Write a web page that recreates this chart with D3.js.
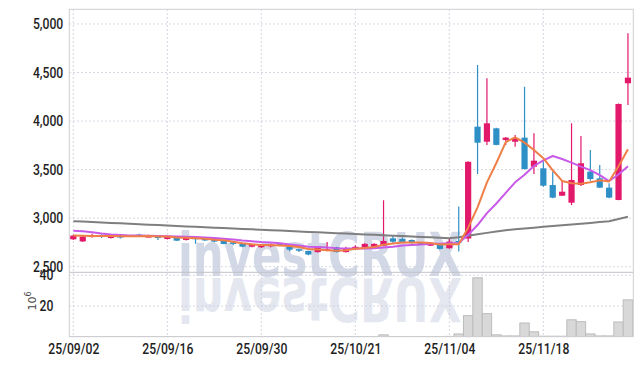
<!DOCTYPE html>
<html><head><meta charset="utf-8">
<script src="https://cdn.jsdelivr.net/npm/d3@7"></script>
<style>
html,body{margin:0;padding:0;background:#fff;}
svg{display:block;}
.lab{font-family:"Roboto","DejaVu Sans Condensed",sans-serif;font-weight:500;font-size:14.5px;fill:#1e1e1e;}
</style></head>
<body><svg id="c" width="643" height="366"></svg>
<script>
const tickIdx = [0,10,20,30,40,50];
const tickLabels = ["25/09/02","25/09/16","25/09/30","25/10/21","25/11/04","25/11/18"];
const priceTicks = [2500,3000,3500,4000,4500,5000];
const volTicks = [20,40];

const opens  = [2782,2760,2805,2827,2795,2815,2822,2830,2810,2815,2785,2803,2775,2798,2795,2785,2775,2750,2734,2706,2700,2710,2732,2710,2680,2662,2650,2665,2700,2650,2680,2700,2705,2715,2792,2785,2775,2748,2716,2730,2690,2765,2790,3942,3787,3925,3805,3787,3829,3530,3513,3341,3231,3159,3341,3479,3410,3314,3187,4389];
const highs  = [2828,2815,2838,2832,2830,2822,2826,2840,2830,2822,2812,2808,2810,2802,2800,2790,2780,2758,2740,2730,2728,2735,2740,2715,2685,2665,2710,2755,2705,2706,2720,2740,2740,3185,2815,2800,2780,2752,2745,2735,2790,3120,3585,4578,4440,3930,3835,3856,4354,3874,3582,3479,3386,3977,3846,3702,3547,3359,4180,4904];
const lows   = [2775,2755,2800,2795,2790,2790,2805,2812,2800,2775,2780,2765,2770,2735,2765,2752,2730,2720,2700,2700,2692,2700,2715,2660,2650,2618,2645,2660,2645,2645,2678,2698,2700,2710,2745,2745,2738,2725,2712,2678,2685,2655,2755,3455,3754,3750,3754,3736,3500,3455,3324,3205,3228,3135,3331,3386,3310,3205,3185,4165];
const closes = [2820,2810,2820,2810,2822,2808,2812,2818,2815,2795,2808,2768,2803,2790,2770,2758,2734,2735,2706,2722,2722,2725,2720,2675,2670,2625,2700,2680,2650,2690,2705,2735,2735,2765,2757,2750,2742,2731,2740,2683,2758,2750,3580,3777,3977,3754,3829,3822,3506,3592,3334,3211,3272,3393,3565,3403,3314,3211,4176,4447];
const volumes = [0.1,0.1,0.1,0.1,0.1,0.1,0.1,0.1,0.1,0.1,0.1,0.1,0.1,0.1,0.1,0.1,0.1,0.1,0.1,0.1,0.1,0.1,0.1,0.1,0.1,0.1,0.1,0.1,0.1,0.1,0.1,0.1,0.1,1.2,0.1,0.1,0.1,0.1,0.1,0.1,0.2,1.8,13.7,38.4,15.0,1.2,0.5,0.5,8.9,3.2,0.3,0.3,0.3,11.0,9.8,1.8,0.5,0.5,9.6,24.0];
const ma5  = [2822,2818,2816,2815,2816,2814,2814,2814,2815,2810,2810,2801,2798,2793,2788,2778,2771,2757,2741,2731,2724,2722,2719,2713,2702,2683,2678,2670,2665,2669,2685,2692,2703,2726,2739,2748,2750,2749,2744,2729,2731,2732,2902,3110,3368,3568,3783,3832,3778,3701,3617,3493,3383,3360,3355,3369,3389,3377,3534,3710];
const ma10 = [2870,2865,2855,2842,2832,2826,2822,2820,2818,2815,2814,2810,2808,2806,2801,2796,2788,2780,2769,2761,2753,2749,2740,2729,2719,2705,2702,2697,2691,2688,2686,2687,2689,2698,2706,2719,2723,2728,2737,2736,2742,2743,2828,2929,3051,3151,3260,3369,3446,3537,3594,3640,3609,3571,3530,3495,3443,3382,3449,3535];
const maLong = [2968,2964,2959,2955,2950,2946,2942,2937,2933,2929,2924,2920,2915,2911,2907,2902,2898,2893,2889,2885,2880,2876,2872,2867,2863,2858,2854,2850,2845,2841,2837,2832,2828,2823,2819,2815,2810,2806,2802,2797,2793,2803,2818,2834,2848,2863,2875,2885,2893,2902,2910,2918,2926,2935,2943,2951,2959,2968,2991,3015];

const L = 69.3, R = 633.3, T = 9.3, MID = 272.3, B = 336.7;
const svg = d3.select("#c");
const x = d3.scaleLinear().domain([-0.43, 59.57]).range([L, R]);
const y = d3.scaleLinear().domain([2442, 5151]).range([MID, T]);
const yv = d3.scaleLinear().domain([0, 40]).range([B, 275.3]);
const step = x(1) - x(0);
const RED = "#e2186b", BLUE = "#2e8fc7";

svg.append("defs").append("clipPath").attr("id","pclip").append("rect")
  .attr("x",L).attr("y",T).attr("width",R-L).attr("height",MID-T);
svg.select("defs").append("clipPath").attr("id","vclip").append("rect")
  .attr("x",L).attr("y",MID).attr("width",R-L).attr("height",B-MID);

// watermark
const wm = svg.append("g");
wm.append("text").attr("x",178).attr("y",276)
  .attr("textLength",284).attr("lengthAdjust","spacingAndGlyphs")
  .style("font-family","DejaVu Sans").style("font-weight","bold").style("font-size","60px")
  .style("fill","#d3d8e7").text("investCRUX");
wm.append("text").attr("x",178).attr("y",-278).attr("transform","scale(1,-1)")
  .attr("textLength",284).attr("lengthAdjust","spacingAndGlyphs")
  .style("font-family","DejaVu Sans").style("font-weight","bold").style("font-size","60px")
  .style("fill","#e5e7f0").text("investCRUX");

// grid
const grid = svg.append("g").attr("stroke","#c9ccda").attr("stroke-width",1).attr("stroke-dasharray","1.5,2.5");
grid.selectAll(".gx").data(tickIdx).join("line")
  .attr("x1",d=>x(d)).attr("x2",d=>x(d)).attr("y1",T).attr("y2",B);
grid.selectAll(".gy").data(priceTicks).join("line")
  .attr("x1",L).attr("x2",R).attr("y1",d=>y(d)).attr("y2",d=>y(d));
grid.selectAll(".gv").data(volTicks).join("line")
  .attr("x1",L).attr("x2",R).attr("y1",d=>yv(d)).attr("y2",d=>yv(d));

// volume bars
svg.append("g").attr("clip-path","url(#vclip)").selectAll("rect").data(volumes).join("rect")
  .attr("x",(d,i)=>x(i)-step/2).attr("width",step)
  .attr("y",d=>yv(d)).attr("height",d=>B-yv(d))
  .attr("fill","#d8d8d8").attr("stroke","#bcbcbc").attr("stroke-width",1);

// candles
const idx = d3.range(opens.length);
const cg = svg.append("g").attr("clip-path","url(#pclip)");
cg.selectAll(".wick").data(idx).join("line")
  .attr("x1",i=>x(i)).attr("x2",i=>x(i))
  .attr("y1",i=>y(highs[i])).attr("y2",i=>y(lows[i]))
  .attr("stroke",i=>closes[i]>=opens[i]?RED:BLUE).attr("stroke-width",1.2);
const bw = step*0.66;
cg.selectAll(".body").data(idx).join("rect")
  .attr("x",i=>x(i)-bw/2).attr("width",bw)
  .attr("y",i=>y(Math.max(opens[i],closes[i])))
  .attr("height",i=>Math.max(1.5, Math.abs(y(opens[i])-y(closes[i]))))
  .attr("fill",i=>closes[i]>=opens[i]?RED:BLUE);

// moving averages
const line = d3.line().x((d,i)=>x(i)).y(d=>y(d));
const lg = svg.append("g").attr("clip-path","url(#pclip)").attr("fill","none").attr("stroke-width",2).attr("stroke-linejoin","round");
lg.append("path").datum(maLong).attr("d",line).attr("stroke","#7f7f7f");
lg.append("path").datum(ma10).attr("d",line).attr("stroke","#c95ae8");
lg.append("path").datum(ma5).attr("d",line).attr("stroke","#ef7f47");

// frame
const fr = svg.append("g").attr("stroke","#cfcfd4").attr("stroke-width",1).attr("fill","none");
fr.append("rect").attr("x",L).attr("y",T).attr("width",R-L).attr("height",B-T);
fr.append("line").attr("x1",L).attr("x2",R).attr("y1",MID).attr("y2",MID).attr("stroke","#c4c4c8");

function condense(sel){
  sel.each(function(){ const w=this.getComputedTextLength(); d3.select(this).attr("textLength",w*0.84).attr("lengthAdjust","spacingAndGlyphs"); });
}

// axes
const ay = svg.append("g").attr("transform",`translate(${L},0)`)
  .call(d3.axisLeft(y).tickValues(priceTicks).tickFormat(d3.format(",")).tickSize(0).tickPadding(6));
ay.select(".domain").remove();
ay.selectAll("text").attr("class","lab").call(condense);

const av = svg.append("g").attr("transform",`translate(${L},0)`)
  .call(d3.axisLeft(yv).tickValues(volTicks).tickFormat(d3.format("d")).tickSize(0).tickPadding(16));
av.select(".domain").remove();
av.selectAll("text").attr("class","lab").call(condense);

const ax = svg.append("g").attr("transform",`translate(0,${B})`)
  .call(d3.axisBottom(x).tickValues(tickIdx).tickFormat((d,i)=>tickLabels[i]).tickSize(0).tickPadding(7));
ax.select(".domain").remove();
ax.selectAll("text").attr("class","lab").call(condense);

// 10^6 label
const ut = svg.append("text").attr("transform","translate(36,301) rotate(-90)")
  .attr("text-anchor","middle")
  .style("font-family","DejaVu Sans").style("font-size","11px").style("fill","#444");
ut.append("tspan").text("10");
ut.append("tspan").attr("dy","-5").style("font-size","8px").text("6");
</script></body></html>
